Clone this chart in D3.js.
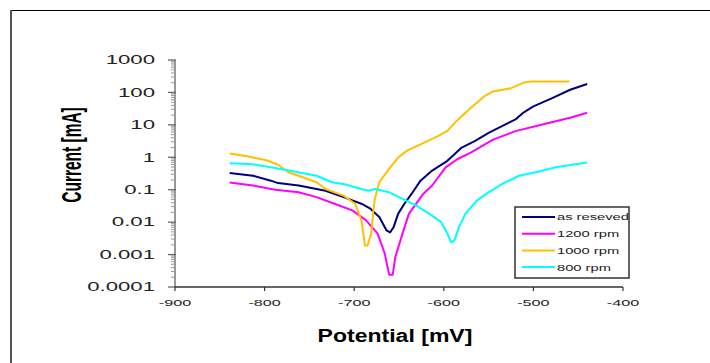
<!DOCTYPE html>
<html>
<head>
<meta charset="utf-8">
<script src="https://cdn.jsdelivr.net/npm/d3@7"></script>
<style>
  body { margin: 0; background: #fff; }
  svg { display: block; font-family: Arial, "Liberation Sans", sans-serif; }
</style>
</head>
<body>
<div id="chart"></div>
<script>
// potential [mV] and current [mA] for each run
var asRecV = [-839, -813, -793, -785, -762, -732, -712, -692, -682, -672, -664, -660, -656, -651, -644, -636, -626, -613, -596, -580, -565, -550, -535, -520, -512, -500, -479, -459, -440];
var asRecI = [0.33, 0.27, 0.19, 0.16, 0.135, 0.093, 0.059, 0.037, 0.026, 0.0145, 0.0056, 0.0048, 0.007, 0.018, 0.037, 0.074, 0.19, 0.39, 0.78, 2.0, 3.2, 5.7, 9.1, 14.7, 23, 37, 67, 121, 182];

var rpm1200V = [-839, -813, -788, -762, -742, -722, -702, -687, -674, -666, -661, -657, -654, -646, -639, -623, -613, -598, -585, -570, -545, -520, -490, -459, -440];
var rpm1200I = [0.166, 0.135, 0.10, 0.083, 0.059, 0.037, 0.023, 0.0115, 0.0045, 0.0011, 0.00024, 0.00024, 0.00086, 0.0045, 0.018, 0.074, 0.135, 0.49, 0.87, 1.4, 3.5, 6.4, 10.3, 16.5, 23.5];

var rpm1000V = [-839, -818, -798, -785, -773, -762, -742, -732, -712, -699, -692, -688, -685, -681, -679, -677, -672, -661, -651, -641, -626, -606, -596, -586, -570, -555, -545, -525, -510, -502, -460];
var rpm1000I = [1.3, 1.05, 0.81, 0.59, 0.34, 0.27, 0.17, 0.105, 0.066, 0.037, 0.0115, 0.0019, 0.0019, 0.0045, 0.018, 0.052, 0.17, 0.44, 0.98, 1.6, 2.5, 4.6, 6.5, 13, 33, 75, 107, 135, 204, 218, 218];

var rpm800V = [-839, -813, -793, -773, -742, -725, -712, -692, -684, -677, -661, -646, -631, -616, -603, -596, -592, -588, -583, -576, -563, -550, -535, -516, -495, -475, -440];
var rpm800I = [0.66, 0.61, 0.49, 0.39, 0.27, 0.17, 0.15, 0.105, 0.093, 0.105, 0.083, 0.052, 0.033, 0.018, 0.01, 0.0045, 0.0024, 0.0028, 0.007, 0.018, 0.047, 0.083, 0.15, 0.27, 0.36, 0.49, 0.69];

var seriesNames = ["as reseved", "1200 rpm", "1000 rpm", "800 rpm"];
var seriesColors = ["#000080", "#ff00ff", "#ffc000", "#00ffff"];
var xTicks = [-900, -800, -700, -600, -500, -400];
var yTicks = [0.0001, 0.001, 0.01, 0.1, 1, 10, 100, 1000];
var yTickLabels = ["0.0001", "0.001", "0.01", "0.1", "1", "10", "100", "1000"];

var series = [
  {name: seriesNames[0], color: seriesColors[0], v: asRecV, i: asRecI},
  {name: seriesNames[1], color: seriesColors[1], v: rpm1200V, i: rpm1200I},
  {name: seriesNames[2], color: seriesColors[2], v: rpm1000V, i: rpm1000I},
  {name: seriesNames[3], color: seriesColors[3], v: rpm800V, i: rpm800I}
];

var width = 710, height = 363;
var svg = d3.select('#chart').append('svg')
    .attr('width', width)
    .attr('height', height);

// outer frame, runs off the right and bottom edge
svg.append('line')
    .attr('x1', 10).attr('x2', 720).attr('y1', 10.5).attr('y2', 10.5)
    .style('stroke', '#000').style('stroke-width', 1.2);
svg.append('line')
    .attr('x1', 11).attr('x2', 11).attr('y1', 10).attr('y2', 370)
    .style('stroke', '#555').style('stroke-width', 2);

var x = d3.scaleLinear().domain([-900, -400]).range([175, 623]);
var y = d3.scaleLog().domain([0.0001, 1000]).range([287, 60]);

// y axis
svg.append('line')
    .attr('x1', 175).attr('x2', 175).attr('y1', y(1000)).attr('y2', y(0.0001))
    .style('stroke', '#777').style('stroke-width', 1.5);

var minor = [];
for (var e = -4; e < 3; e++) {
  for (var m = 2; m < 10; m++) minor.push(m * Math.pow(10, e));
}
svg.selectAll('.ymin').data(minor).enter().append('line')
    .attr('x1', 171).attr('x2', 175)
    .attr('y1', d => y(d)).attr('y2', d => y(d))
    .style('stroke', '#999').style('stroke-width', 1);

svg.selectAll('.ymaj').data(yTicks).enter().append('line')
    .attr('x1', 168).attr('x2', 176)
    .attr('y1', d => y(d)).attr('y2', d => y(d))
    .style('stroke', '#666').style('stroke-width', 1.3);

svg.selectAll('.ylab').data(yTicks).enter().append('text')
    .attr('transform', d => 'translate(155,' + y(d) + ') scale(1.85,1)')
    .attr('dy', '0.36em')
    .attr('text-anchor', 'end')
    .style('font-size', '12px')
    .style('fill', '#222')
    .text((d, i) => yTickLabels[i]);

// x axis
svg.append('line')
    .attr('x1', x(-900)).attr('x2', x(-400)).attr('y1', 287).attr('y2', 287)
    .style('stroke', '#333').style('stroke-width', 1.5);

svg.selectAll('.xtk').data(xTicks).enter().append('line')
    .attr('x1', d => x(d)).attr('x2', d => x(d))
    .attr('y1', 287).attr('y2', 291)
    .style('stroke', '#333').style('stroke-width', 1.2);

svg.selectAll('.xlab').data(xTicks).enter().append('text')
    .attr('transform', d => 'translate(' + x(d) + ',306) scale(1.8,1)')
    .attr('text-anchor', 'middle')
    .style('font-size', '9px')
    .style('fill', '#222')
    .text(d => d);

// axis titles
svg.append('text')
    .attr('transform', 'translate(395,342) scale(1.28,1)')
    .attr('text-anchor', 'middle')
    .style('font-size', '18px').style('font-weight', 'bold')
    .text('Potential [mV]');

svg.append('text')
    .attr('transform', 'translate(81,155) scale(1.8,1) rotate(-90)')
    .attr('text-anchor', 'middle')
    .style('font-size', '15.5px').style('font-weight', 'bold')
    .text('Current [mA]');

// curves
var line = d3.line()
    .x(d => x(d[0]))
    .y(d => y(d[1]));

series.forEach(function(s) {
  var pts = s.v.map((v, k) => [v, s.i[k]]);
  svg.append('path')
      .attr('d', line(pts))
      .style('fill', 'none')
      .style('stroke', s.color)
      .style('stroke-width', 2)
      .style('stroke-linejoin', 'round');
});

// legend
var lg = svg.append('g').attr('transform', 'translate(515,207)');
lg.append('rect')
    .attr('width', 114).attr('height', 71)
    .style('fill', '#fff').style('stroke', '#333').style('stroke-width', 1.5);

series.forEach(function(s, k) {
  var ly = 10 + k * 16.7;
  lg.append('line')
      .attr('x1', 7).attr('x2', 40).attr('y1', ly).attr('y2', ly)
      .style('stroke', s.color).style('stroke-width', 2);
  lg.append('text')
      .attr('transform', 'translate(42,' + ly + ') scale(1.55,1)')
      .attr('dy', '0.36em')
      .style('font-size', '9.5px')
      .style('fill', '#222')
      .text(s.name);
});
</script>
</body>
</html>
